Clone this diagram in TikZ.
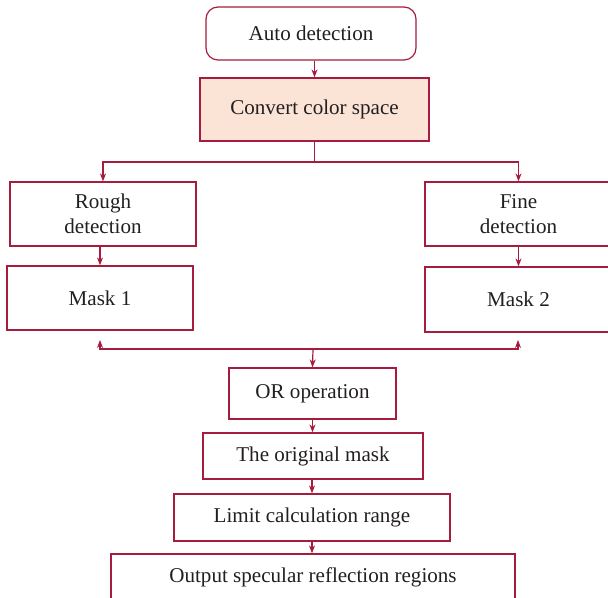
\documentclass[tikz,border=0pt]{standalone}
\usepackage{fontspec}
\setmainfont{Liberation Serif}
\usetikzlibrary{arrows.meta}
\definecolor{dred}{RGB}{165,28,62}
\definecolor{peach}{RGB}{251,227,214}
\definecolor{txt}{RGB}{35,31,32}
\begin{document}
\begin{tikzpicture}[x=0.75pt,y=-0.75pt,
  box/.style={draw=dred,line width=0.9pt,inner sep=0pt,align=center,text=txt,
    font=\fontsize{15.8}{18.75}\selectfont},
  arr/.style={draw=dred,line width=0.9pt,-{Stealth[length=6pt,width=4.5pt]}},
  ln/.style={draw=dred,line width=0.9pt}]
\useasboundingbox (0,0) rectangle (608,598);
\clip (0,0) rectangle (608,598);
\node[box,rounded corners=9pt,minimum width=157.5pt,minimum height=39.75pt] (auto) at (311,33.5) {Auto detection};
\node[box,fill=peach,minimum width=171.75pt,minimum height=47.25pt] (conv) at (314.5,109.5) {Convert color space};
\node[box,minimum width=139.5pt,minimum height=48pt] (rough) at (103,214) {Rough\\detection};
\node[box,minimum width=139.5pt,minimum height=48pt] (mask1) at (100,298) {Mask 1};
\node[box,minimum width=140.25pt,minimum height=48pt] (fine) at (518.5,214) {Fine\\detection};
\node[box,minimum width=140.25pt,minimum height=48.75pt] (mask2) at (518.5,299.5) {Mask 2};
\node[box,minimum width=125.25pt,minimum height=38.25pt] (orop) at (312.5,393.5) {OR operation};
\node[box,minimum width=165pt,minimum height=34.5pt] (orig) at (313,456) {The original mask};
\node[box,minimum width=207pt,minimum height=35.25pt] (limit) at (312,517.5) {Limit calculation range};
\node[box,minimum width=303pt,minimum height=34.5pt] (out) at (313,577) {Output specular reflection regions};
% connectors
\draw[arr] (auto.south -| conv.north) -- (conv.north);
\coordinate (s) at (314,162);
\draw[ln] (conv.south) -- (conv.south |- s);
\draw[arr] (conv.south |- s) -| (rough.north);
\draw[arr] (conv.south |- s) -| (fine.north);
\draw[arr] (rough.south -| mask1.north) -- (mask1.north);
\draw[arr] (fine.south) -- (fine.south |- mask2.north);
\coordinate (m) at (313,349);
\coordinate (m1) at (100,340);
\coordinate (m2) at (518,340);
\draw[arr] (m) -- (orop.north);
\draw[arr] (m) -| (m1);
\draw[arr] (m) -| (m2);
\draw[arr] (orop.south) -- (orop.south |- orig.north);
\draw[arr] (orig.south -| limit.north) -- (limit.north);
\draw[arr] (limit.south) -- (limit.south |- out.north);
\end{tikzpicture}
\end{document}
